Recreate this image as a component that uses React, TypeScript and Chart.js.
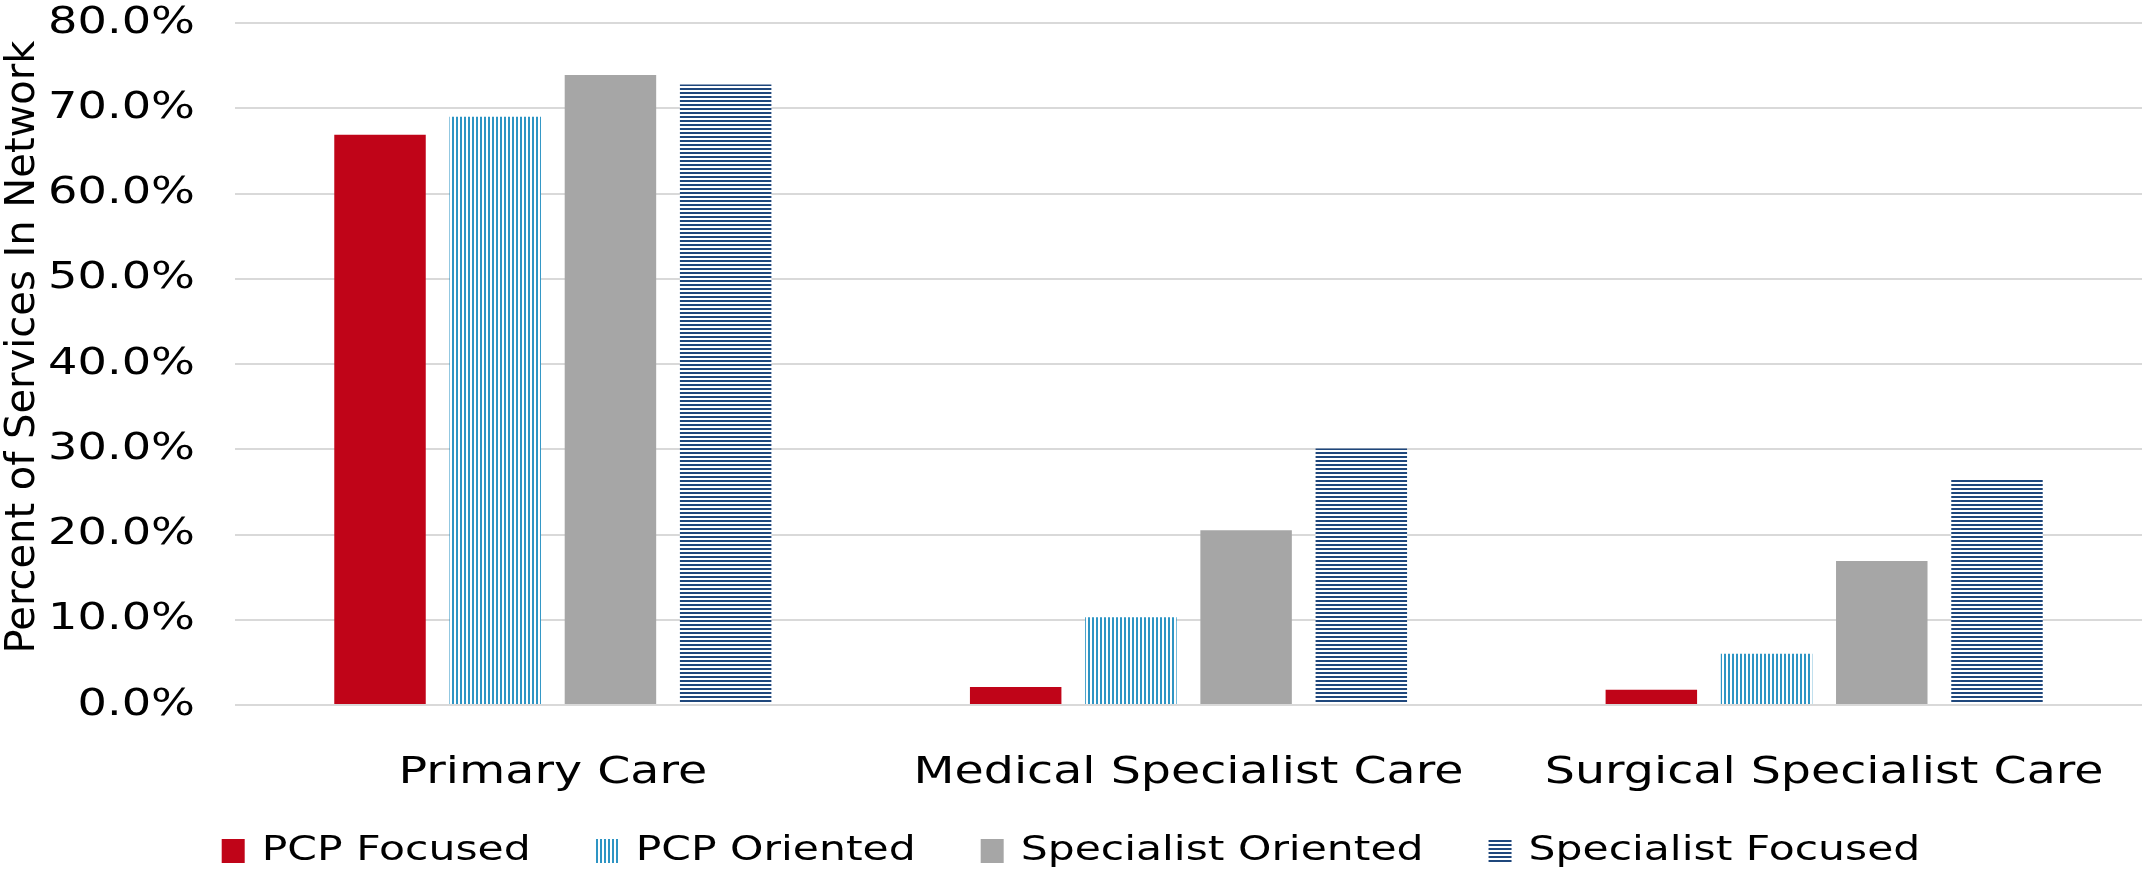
import React, { useEffect, useRef } from 'react';
import { Chart, registerables } from 'chart.js';

Chart.register(...registerables);

// ---- data ----
const categories = ['Primary Care', 'Medical Specialist Care', 'Surgical Specialist Care'];
const seriesNames = ['PCP Focused', 'PCP Oriented', 'Specialist Oriented', 'Specialist Focused'];
const pcpFocused = [66.9, 2.1, 1.8];
const pcpOriented = [69.0, 10.3, 6.0];
const specialistOriented = [73.9, 20.5, 16.9];
const specialistFocused = [72.8, 30.1, 26.5];
const yMin = 0;
const yMax = 80;
const yStep = 10;
const yAxisTitle = 'Percent of Services In Network';

// ---- styling ----
const RED = '#C00418';
const CYAN = '#2E95C4';
const GRAY = '#A6A6A6';
const NAVY = '#1F477C';
const FONT = 'DejaVu Sans';
const STRETCH = 1.25;

function stretchText(ctx: CanvasRenderingContext2D) {
  const fill = ctx.fillText.bind(ctx);
  const measure = ctx.measureText.bind(ctx);
  const rotated = () => {
    const m = ctx.getTransform();
    return Math.abs(m.b) > 1e-6 || Math.abs(m.c) > 1e-6;
  };
  (ctx as any).fillText = (text: string, x: number, y: number, maxWidth?: number) => {
    if (rotated()) {
      if (maxWidth === undefined) fill(text, x, y);
      else fill(text, x, y, maxWidth);
      return;
    }
    ctx.save();
    ctx.translate(x, y);
    ctx.scale(STRETCH, 1);
    if (maxWidth === undefined) fill(text, 0, 0);
    else fill(text, 0, 0, maxWidth / STRETCH);
    ctx.restore();
  };
  (ctx as any).measureText = (text: string) => {
    const m = measure(text);
    if (rotated()) return m;
    return {
      width: m.width * STRETCH,
      actualBoundingBoxAscent: m.actualBoundingBoxAscent,
      actualBoundingBoxDescent: m.actualBoundingBoxDescent,
      actualBoundingBoxLeft: m.actualBoundingBoxLeft * STRETCH,
      actualBoundingBoxRight: m.actualBoundingBoxRight * STRETCH,
      fontBoundingBoxAscent: (m as any).fontBoundingBoxAscent,
      fontBoundingBoxDescent: (m as any).fontBoundingBoxDescent,
    };
  };
}

function makeVerticalStripes(color: string) {
  const c = document.createElement('canvas');
  c.width = 4;
  c.height = 4;
  const g = c.getContext('2d')!;
  g.fillStyle = '#FFFFFF';
  g.fillRect(0, 0, 4, 4);
  g.fillStyle = color;
  g.fillRect(0, 0, 2, 4);
  return g.createPattern(c, 'repeat')!;
}

function makeHorizontalStripes(color: string) {
  const c = document.createElement('canvas');
  c.width = 4;
  c.height = 4;
  const g = c.getContext('2d')!;
  g.fillStyle = '#FFFFFF';
  g.fillRect(0, 0, 4, 4);
  g.fillStyle = color;
  g.fillRect(0, 0, 4, 2);
  return g.createPattern(c, 'repeat')!;
}

const layoutTweaks = {
  id: 'layoutTweaks',
  afterLayout(chart: any) {
    const x = chart.scales.x;
    if (x) {
      x.bottom = chart.height;
    }
    const lg = chart.legend;
    if (lg) {
      lg.top += 6;
      lg.bottom += 6;
    }
    const y = chart.scales.y;
    if (y && !y.__titlePatched) {
      const orig = y.drawTitle.bind(y);
      y.drawTitle = function () {
        const t = this.top;
        this.top = t - 34;
        orig();
        this.top = t;
      };
      y.__titlePatched = true;
    }
  },
};

export default function App() {
  const canvasRef = useRef<HTMLCanvasElement | null>(null);

  useEffect(() => {
    const canvas = canvasRef.current;
    if (!canvas) return;
    const ctx = canvas.getContext('2d')!;
    stretchText(ctx);

    const cyanPattern = makeVerticalStripes(CYAN);
    const navyPattern = makeHorizontalStripes(NAVY);

    const common = {
      borderWidth: 0,
      categoryPercentage: 0.725,
      barPercentage: 0.794,
    };

    const chart = new Chart(ctx, {
      type: 'bar',
      data: {
        labels: categories,
        datasets: [
          { label: seriesNames[0], data: pcpFocused, backgroundColor: RED, ...common },
          { label: seriesNames[1], data: pcpOriented, backgroundColor: cyanPattern as any, ...common },
          { label: seriesNames[2], data: specialistOriented, backgroundColor: GRAY, ...common },
          { label: seriesNames[3], data: specialistFocused, backgroundColor: navyPattern as any, ...common },
        ],
      },
      plugins: [layoutTweaks],
      options: {
        responsive: false,
        animation: false,
        events: [],
        layout: { padding: { top: 23, right: 3, left: 0, bottom: 0 } },
        plugins: {
          tooltip: { enabled: false },
          title: { display: false },
          legend: {
            display: true,
            position: 'bottom',
            labels: {
              color: '#000000',
              font: { family: FONT, size: 34 },
              boxWidth: 23,
              boxHeight: 24,
              padding: 65,
            },
          },
        },
        scales: {
          x: {
            grid: { display: false, drawTicks: false },
            border: { display: false },
            ticks: {
              color: '#000000',
              font: { family: FONT, size: 38 },
              padding: 45,
              maxRotation: 0,
              autoSkip: false,
            },
            afterFit: (scale: any) => {
              scale.height = 58;
              scale.paddingLeft = 0;
              scale.paddingRight = 0;
            },
          },
          y: {
            min: yMin,
            max: yMax,
            grid: { color: '#D9D9D9', lineWidth: 2, drawTicks: false },
            border: { display: false },
            ticks: {
              stepSize: yStep,
              color: '#000000',
              font: { family: FONT, size: 37 },
              padding: 40,
              callback: (v: any) => `${Number(v).toFixed(1)}%`,
            },
            title: {
              display: true,
              text: yAxisTitle,
              color: '#000000',
              font: { family: FONT, size: 40 },
              padding: { top: 0, bottom: 0 },
            },
            afterFit: (scale: any) => {
              scale.width = 235;
              scale.paddingTop = 20;
              scale.paddingBottom = 20;
            },
          },
        },
      },
    });

    return () => {
      chart.destroy();
    };
  }, []);

  return (
    <div style={{ position: 'fixed', left: 0, top: 0, width: '2145px', height: '872px', background: '#FFFFFF' }}>
      <canvas ref={canvasRef} width={2145} height={872} style={{ display: 'block', width: '2145px', height: '872px' }} />
    </div>
  );
}
